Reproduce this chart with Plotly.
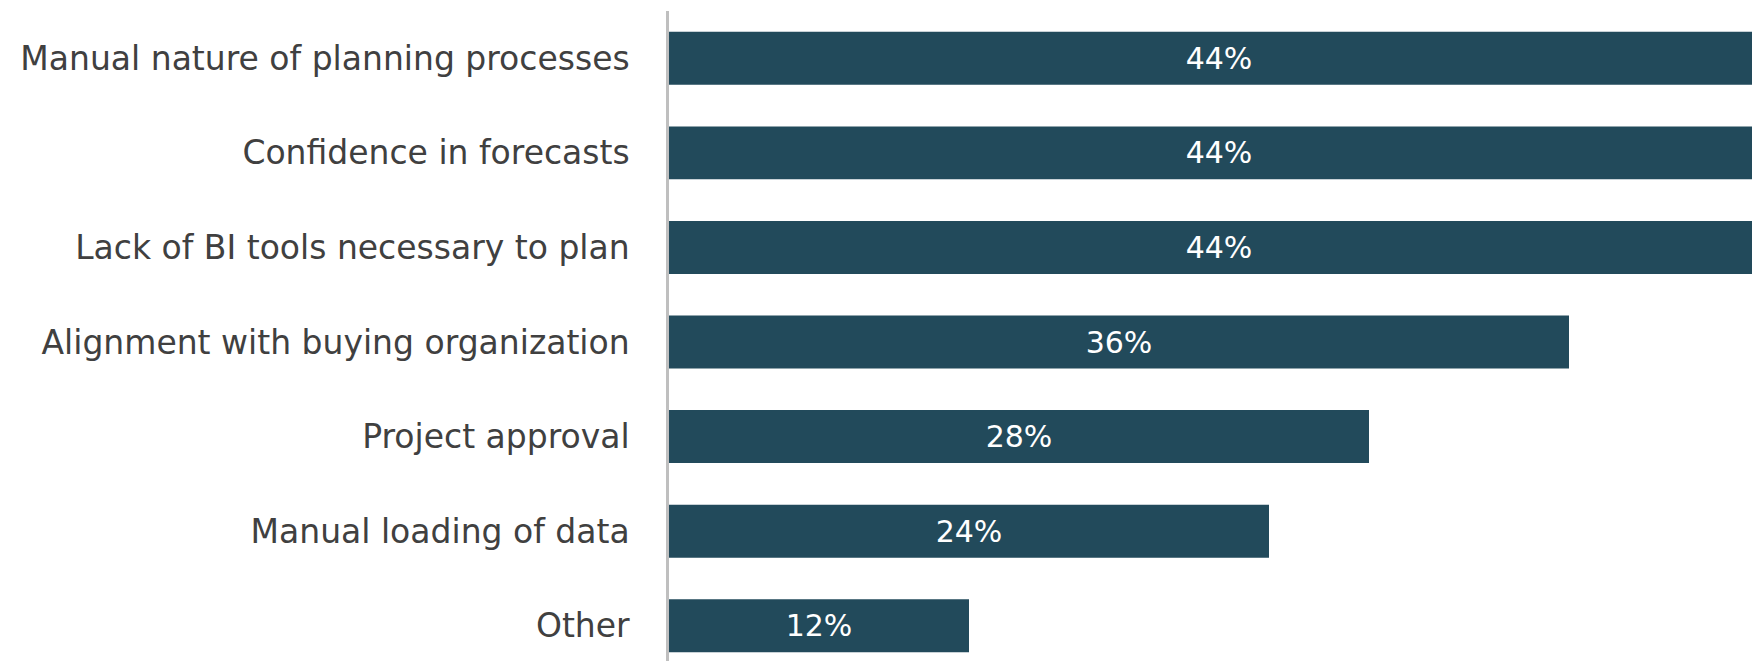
import plotly.graph_objects as go

categories = [
    "Manual nature of planning processes",
    "Confidence in forecasts",
    "Lack of BI tools necessary to plan",
    "Alignment with buying organization",
    "Project approval",
    "Manual loading of data",
    "Other",
]
values = [44, 44, 44, 36, 28, 24, 12]

W, H = 1752, 661
left = 669
fig = go.Figure(
    go.Bar(
        y=categories,
        x=values,
        orientation="h",
        marker=dict(color="#224A5B", line=dict(width=0)),
        width=0.56,
        texttemplate="%{x}%",
        textposition="inside",
        insidetextanchor="middle",
        textangle=0,
        constraintext="none",
        textfont=dict(family="DejaVu Sans", size=30, color="#FFFFFF"),
        cliponaxis=True,
    )
)

fig.update_layout(
    width=W,
    height=H,
    margin=dict(l=left, r=0, t=11, b=0, autoexpand=False),
    plot_bgcolor="white",
    paper_bgcolor="white",
    showlegend=False,
)
fig.update_xaxes(
    range=[0, (W - left) / 25.0],
    showgrid=False,
    zeroline=False,
    showticklabels=False,
    ticks="",
    showline=False,
    fixedrange=True,
)
fig.update_yaxes(
    type="category",
    categoryorder="array",
    categoryarray=categories,
    range=[6.373, -0.5],
    showgrid=False,
    zeroline=False,
    showline=True,
    linecolor="#BFBFBF",
    linewidth=2.5,
    ticks="outside",
    ticklen=30,
    tickcolor="rgba(0,0,0,0)",
    tickfont=dict(family="DejaVu Sans", size=33, color="#404040"),
    automargin=False,
)

fig.write_html("out.html")
